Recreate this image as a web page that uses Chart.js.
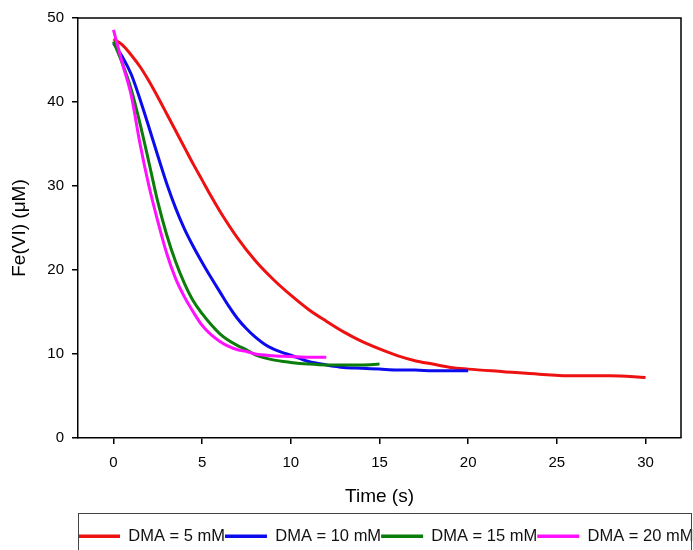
<!DOCTYPE html>
<html>
<head>
<meta charset="utf-8">
<script src="https://cdn.jsdelivr.net/npm/chart.js@4.4.0/dist/chart.umd.min.js"></script>
<style>
  html, body { margin: 0; padding: 0; background: #fff; }
</style>
</head>
<body>
<canvas id="chart" width="693" height="550"></canvas>
<script>
const xTicks = [0, 5, 10, 15, 20, 25, 30];
const seriesLabels = ["DMA = 5 mM", "DMA = 10 mM", "DMA = 15 mM", "DMA = 20 mM"];
const seriesColors = ["#ee1111", "#0b0bee", "#0b7d0b", "#ff11ff"];

// DMA = 5 mM
const t5 = [0, 0.5, 1, 1.5, 2, 2.5, 3, 3.5, 4, 4.5, 5, 5.5, 6, 7, 8, 9, 10, 11, 12, 13, 14, 15, 16, 17, 18, 19, 20, 22, 24, 26, 28, 30];
const fe5 = [47.5, 46.8, 45.6, 44.2, 42.5, 40.6, 38.6, 36.6, 34.6, 32.6, 30.7, 28.8, 27.0, 23.8, 21.1, 18.9, 17.0, 15.3, 13.9, 12.6, 11.5, 10.6, 9.8, 9.2, 8.8, 8.4, 8.2, 7.9, 7.6, 7.4, 7.4, 7.2];

// DMA = 10 mM
const t10 = [0, 0.5, 1, 1.5, 2, 2.5, 3, 3.5, 4, 4.5, 5, 5.5, 6, 6.5, 7, 7.5, 8, 8.5, 9, 9.5, 10, 11, 12, 13, 14, 15, 16, 17, 18, 19, 20];
const fe10 = [47.0, 45.4, 43.3, 40.3, 37.0, 33.6, 30.3, 27.4, 24.9, 22.8, 20.9, 19.1, 17.4, 15.7, 14.2, 13.0, 12.0, 11.2, 10.6, 10.2, 9.85, 9.1, 8.7, 8.4, 8.3, 8.2, 8.1, 8.1, 8.0, 8.0, 8.0];

// DMA = 15 mM
const t15 = [0, 0.5, 1, 1.5, 2, 2.5, 3, 3.5, 4, 4.5, 5, 5.5, 6, 6.5, 7, 7.5, 8, 9, 10, 11, 12, 13, 14, 15];
const fe15 = [47.2, 44.6, 41.5, 37.4, 32.8, 28.1, 24.2, 21.0, 18.4, 16.3, 14.8, 13.5, 12.4, 11.6, 11.0, 10.5, 9.9, 9.3, 9.0, 8.8, 8.7, 8.7, 8.7, 8.8];

// DMA = 20 mM
const t20 = [0, 0.5, 1, 1.5, 2, 2.5, 3, 3.5, 4, 4.5, 5, 5.5, 6, 6.5, 7, 7.5, 8, 9, 10, 11, 12];
const fe20 = [48.6, 44.6, 40.8, 35.0, 30.0, 25.8, 22.0, 19.0, 16.8, 15.0, 13.4, 12.3, 11.5, 10.9, 10.5, 10.3, 10.0, 9.8, 9.7, 9.6, 9.6];

const times = [t5, t10, t15, t20];
const values = [fe5, fe10, fe15, fe20];

const FONT = "'Liberation Sans', Arial, sans-serif";

// top/right frame and the legend box
const framePlugin = {
  id: "frame",
  afterLayout(chart) {
    const lg = chart.legend;
    lg.left = chart.chartArea.left;
    lg.right = lg.left + 800;
    lg.top += 11;
  },
  afterDraw(chart) {
    const { ctx, chartArea: a } = chart;
    ctx.save();
    ctx.strokeStyle = "#000";
    ctx.lineWidth = 1.5;
    ctx.beginPath();
    ctx.moveTo(a.left, a.top);
    ctx.lineTo(a.right, a.top);
    ctx.lineTo(a.right, a.bottom);
    ctx.stroke();
    ctx.strokeStyle = "#444";
    ctx.lineWidth = 1;
    ctx.strokeRect(a.left + 0.5, 513.5, 613, 60);
    ctx.restore();
  }
};

new Chart(document.getElementById("chart"), {
  type: "scatter",
  data: {
    datasets: seriesLabels.map((label, i) => ({
      label,
      data: times[i].map((t, j) => ({ x: t, y: values[i][j] })),
      showLine: true,
      borderColor: seriesColors[i],
      backgroundColor: seriesColors[i],
      borderWidth: 3,
      pointRadius: 0,
      cubicInterpolationMode: "monotone",
      order: 3 - i
    }))
  },
  options: {
    responsive: false,
    animation: false,
    layout: { padding: { top: 18, right: 12, bottom: 6.5, left: 0 } },
    plugins: {
      tooltip: { enabled: false },
      legend: {
        position: "bottom",
        align: "start",
        labels: {
          boxWidth: 42,
          boxHeight: 3.5,
          padding: 0,
          color: "#111",
          font: { family: FONT, size: 16.5 },
          sort: (a, b) => a.datasetIndex - b.datasetIndex,
          generateLabels: chart =>
            Chart.defaults.plugins.legend.labels.generateLabels(chart).map(l => ({ ...l, lineWidth: 0 }))
        }
      }
    },
    scales: {
      x: {
        type: "linear",
        min: -2,
        max: 32,
        afterBuildTicks: s => { s.ticks = xTicks.map(v => ({ value: v })); },
        afterFit: s => { s.height = 79; },
        grid: { drawOnChartArea: false, tickLength: 6, color: "#000", lineWidth: 1.5 },
        border: { display: true, color: "#000", width: 1.5 },
        ticks: { padding: 10, color: "#000", font: { family: FONT, size: 15 } },
        title: {
          display: true,
          text: "Time (s)",
          color: "#000",
          font: { family: FONT, size: 19 },
          padding: { top: 0, bottom: 8.6 }
        }
      },
      y: {
        min: 0,
        max: 50,
        afterFit: s => { s.width = 78; },
        grid: { drawOnChartArea: false, tickLength: 6, color: "#000", lineWidth: 1.5 },
        border: { display: true, color: "#000", width: 1.5 },
        ticks: { stepSize: 10, padding: 8, color: "#000", font: { family: FONT, size: 15 } },
        title: {
          display: true,
          text: "Fe(VI) (μM)",
          color: "#000",
          font: { family: FONT, size: 19 },
          padding: { top: 8.6, bottom: 0 }
        }
      }
    }
  },
  plugins: [framePlugin]
});
</script>
</body>
</html>
